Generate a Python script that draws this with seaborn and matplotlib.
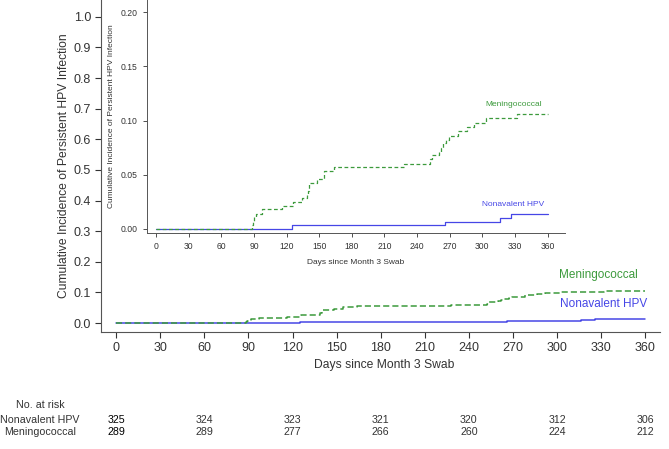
import numpy as np
import pandas as pd
import matplotlib
matplotlib.use("Agg")
import matplotlib.pyplot as plt
import matplotlib.transforms as mtransforms
import seaborn as sns

# step-function data (days, cumulative incidence)
hpv_days = [0, 125, 266, 316, 326, 360]
hpv_cif = [0.0, 0.0031, 0.0065, 0.0099, 0.0133, 0.0133]

men_days = [0, 88, 89, 90, 92, 97, 116, 126, 134, 139, 140, 141, 148, 154, 164,
            228, 252, 254, 260, 262, 264, 267, 269, 278, 286, 292, 303, 332, 360]
men_cif = [0.0, 0.0035, 0.007, 0.0105, 0.014, 0.018, 0.021, 0.025, 0.028, 0.032,
           0.035, 0.042, 0.0456, 0.053, 0.0567, 0.060, 0.064, 0.0678, 0.071, 0.075,
           0.079, 0.082, 0.086, 0.0903, 0.094, 0.098, 0.1023, 0.1063, 0.1063]

groups = ["Nonavalent HPV", "Meningococcal"]
risk_days = [0, 60, 120, 180, 240, 300, 360]
risk_hpv = [325, 324, 323, 321, 320, 312, 306]
risk_men = [289, 289, 277, 266, 260, 224, 212]

blue = "#4646e6"
green = "#3c9a3c"
grey = "#333333"

df = pd.concat([
    pd.DataFrame({"day": hpv_days, "cif": hpv_cif, "group": groups[0]}),
    pd.DataFrame({"day": men_days, "cif": men_cif, "group": groups[1]}),
])

sns.set_style("ticks")
plt.rcParams["font.family"] = ["Liberation Sans", "DejaVu Sans"]

fig = plt.figure(figsize=(6.69, 4.49), dpi=100)

# main axes
ax = fig.add_axes([0.1517, 0.2613, 0.8348, 0.7387])
sns.lineplot(data=df, x="day", y="cif", hue="group", style="group",
             palette={groups[0]: blue, groups[1]: green},
             dashes={groups[0]: "", groups[1]: (4, 2)},
             drawstyle="steps-post", estimator=None, legend=False,
             linewidth=1.1, ax=ax)
ax.set_xlim(-10, 370)
ax.set_ylim(-0.028, 1.055)
ax.set_xticks(np.arange(0, 361, 30))
ax.set_yticks(np.arange(0, 1.01, 0.1))
ax.set_yticklabels([f"{v:.1f}" for v in np.arange(0, 1.01, 0.1)])
ax.tick_params(labelsize=9, colors=grey, length=4, width=0.8)
ax.set_xlabel("")
ax.set_ylabel("Cumulative Incidence of Persistent HPV Infection", fontsize=8.7,
              color=grey, labelpad=3)
sns.despine(ax=ax)
for s in ["left", "bottom"]:
    ax.spines[s].set_color("#555555")
ax.text(328, 0.157, "Meningococcal", color=green, fontsize=8.5, ha="center", va="center")
ax.text(332, 0.062, "Nonavalent HPV", color=blue, fontsize=8.5, ha="center", va="center")

fig.text(0.575, 1 - 365 / 449, "Days since Month 3 Swab", fontsize=8.7, color=grey,
         ha="center", va="center")

# number at risk table
trans = mtransforms.blended_transform_factory(ax.transData, fig.transFigure)
fig.text(40 / 669, 1 - 405 / 449, "No. at risk", fontsize=7.7, color=grey,
         ha="center", va="center")
for row, (name, counts) in enumerate([(groups[0], risk_hpv), (groups[1], risk_men)]):
    y = 1 - (420 + 12 * row) / 449
    fig.text(40 / 669, y, name, fontsize=7.7, color=grey, ha="center", va="center")
    for i, (d, n) in enumerate(zip(risk_days, counts)):
        ax.text(d, y, str(n), transform=trans, fontsize=7.7, ha="center", va="center",
                color="black" if i == 0 else grey, clip_on=False)

# inset zoom
ins = fig.add_axes([0.2193, 0.481, 0.6252, 0.519])
ins.set_facecolor("white")
sns.lineplot(data=df, x="day", y="cif", hue="group", style="group",
             palette={groups[0]: blue, groups[1]: green},
             dashes={groups[0]: "", groups[1]: (3, 2)},
             drawstyle="steps-post", estimator=None, legend=False,
             linewidth=0.9, ax=ins)
ins.set_xlim(-8.6, 376)
ins.set_ylim(-0.004, 0.2114)
ins.set_xticks(np.arange(0, 361, 30))
ins.set_yticks(np.arange(0, 0.201, 0.05))
ins.set_yticklabels([f"{v:.2f}" for v in np.arange(0, 0.201, 0.05)])
ins.tick_params(labelsize=6.2, colors=grey, length=3, width=0.6)
ins.set_xlabel("Days since Month 3 Swab", fontsize=6, color=grey, labelpad=6)
ins.set_ylabel("Cumulative Incidence of Persistent HPV Infection", fontsize=6,
               color=grey, labelpad=4)
sns.despine(ax=ins)
for s in ["left", "bottom"]:
    ins.spines[s].set_color("#555555")
    ins.spines[s].set_linewidth(0.7)
ins.text(329, 0.115, "Meningococcal", color=green, fontsize=6, ha="center", va="center")
ins.text(328, 0.022, "Nonavalent HPV", color=blue, fontsize=6, ha="center", va="center")

fig.savefig("out.png", dpi=100)
